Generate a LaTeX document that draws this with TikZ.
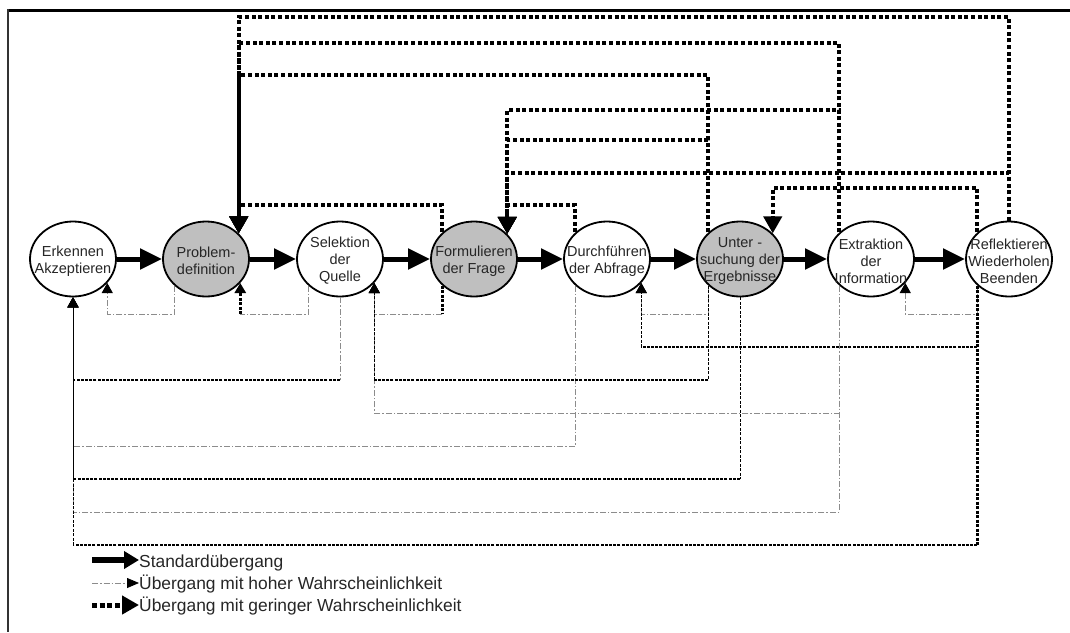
\documentclass[tikz,border=0pt]{standalone}
\usepackage{fontspec}
\setmainfont{Liberation Sans}
\usetikzlibrary{arrows.meta,shapes.geometric}
\begin{document}
\begin{tikzpicture}[x=1pt,y=-1pt,
  stnode/.style={ellipse, draw=black, line width=1.8pt, minimum width=86pt, minimum height=75pt, inner sep=0pt, fill=white},
  grnode/.style={stnode, fill=black!25},
  ntext/.style={font=\fontsize{14.5}{17}\selectfont, align=center, text=black!85, inner sep=0pt, yshift=-2pt},
  legtext/.style={font=\fontsize{17.4}{21}\selectfont, text=black!85, inner sep=0pt, anchor=base west},
  std/.style={line width=5pt, -{Triangle[length=22pt,width=20pt]}},
  lo/.style={line width=4pt, dash pattern=on 4pt off 2.6pt},
  loarr/.style={lo, -{Triangle[length=17pt,width=18pt]}},
  lom/.style={line width=3pt, dash pattern=on 3pt off 1.5pt},
  lob/.style={line width=2.2pt, dash pattern=on 3pt off 1.2pt},
  vthin/.style={line width=1pt, dash pattern=on 3pt off 1.5pt},
  hi/.style={draw=black!45, line width=0.8pt, dash pattern=on 6pt off 2pt on 1.5pt off 2pt},
  tip/.style={-{Triangle[length=10pt,width=11pt,color=black]}},
]
\useasboundingbox (0,0) rectangle (1070,632);
% frame
\draw[line width=3pt] (7,10.5) -- (1070,10.5);
\draw[black!80, line width=2pt] (8,9) -- (8,632);

% nodes
\node[stnode, label={[ntext]center:Erkennen\\Akzeptieren}] (n1) at (73,259) {};
\node[grnode, label={[ntext]center:Problem-\\definition}] (n2) at (206,259) {};
\node[stnode, label={[ntext]center:Selektion\\der\\Quelle}] (n3) at (340,259) {};
\node[grnode, label={[ntext]center:Formulieren\\der Frage}] (n4) at (474,259) {};
\node[stnode, label={[ntext]center:Durchführen\\der Abfrage}] (n5) at (607,259) {};
\node[grnode, label={[ntext]center:Unter -\\suchung der\\Ergebnisse}] (n6) at (740,259) {};
\node[stnode, label={[ntext]center:Extraktion\\der\\Information}] (n7) at (871,259) {};
\node[stnode, label={[ntext]center:Reflektieren\\Wiederholen\\Beenden}] (n8) at (1009,259) {};

% standard transitions
\draw[std] (n1.east) -- (n2.west);
\draw[std] (n2.east) -- (n3.west);
\draw[std] (n3.east) -- (n4.west);
\draw[std] (n4.east) -- (n5.west);
\draw[std] (n5.east) -- (n6.west);
\draw[std] (n6.east) -- (n7.west);
\draw[std] (n7.east) -- (n8.west);

% levels
\coordinate (tA) at (0,17);
\coordinate (tB) at (0,43);
\coordinate (tC) at (0,75);
\coordinate (tD) at (0,110);
\coordinate (tE) at (0,140);
\coordinate (tF) at (0,173);
\coordinate (tG) at (0,188);
\coordinate (tH) at (0,205);
\coordinate (bA) at (0,314);
\coordinate (bB) at (0,347);
\coordinate (bC) at (0,380);
\coordinate (bD) at (0,413);
\coordinate (bE) at (0,446);
\coordinate (bF) at (0,479);
\coordinate (bG) at (0,512);
\coordinate (bH) at (0,545);

% top: low probability transitions
\draw[loarr] (n8.north) -- (n8.north |- tA) -| (n2.38);
\draw[loarr] (n7.140) -- (n7.140 |- tB) -| (n2.38);
\draw[loarr] (n6.140) -- (n6.140 |- tC) -| (n2.38);
\draw[loarr] (n4.140) -- (n4.140 |- tH) -| (n2.38);
\draw[loarr] (n7.140) -- (n7.140 |- tD) -| (n4.37);
\draw[loarr] (n6.140) -- (n6.140 |- tE) -| (n4.37);
\draw[loarr] (n8.north) -- (n8.north |- tF) -| (n4.37);
\draw[loarr] (n5.140) -- (n5.140 |- tH) -| (n4.37);
\draw[loarr] (n8.140) -- (n8.140 |- tG) -| (n6.38);

% bottom: small loops (high probability)
\draw[hi, tip] (n2.-140) -- (n2.-140 |- bA) -| (n1.-35);
\coordinate (c2) at (n2.-35 |- bA);
\draw[hi] (n3.-140) -- (n3.-140 |- bA) -- (c2);
\draw[lom, tip] (c2) -- (n2.-35);
\coordinate (c3) at (n4.-140 |- bA);
\draw[lom] (n4.-140) -- (c3);
\draw[hi, tip] (c3) -| (n3.-35);
\draw[hi, tip] (n6.-140) -- (n6.-140 |- bA) -| (n5.-35);
\draw[hi, tip] (n8.-140) -- (n8.-140 |- bA) -| (n7.-35);

% bottom: long high probability
\draw[hi, tip] (n7.-140) -- (n7.-140 |- bD) -| (n3.-35);
\draw[hi, tip] (n5.-140) -- (n5.-140 |- bE) -| (n1.south);
\draw[hi, tip] (n7.-140) -- (n7.-140 |- bG) -| (n1.south);

% bottom: low probability
\coordinate (c6a) at (n8.-140 |- bB);
\coordinate (c6b) at (n5.-35 |- bB);
\draw[vthin] (n8.-140) -- (c6a);
\draw[lob] (c6a) -- (c6b);
\draw[vthin, tip] (c6b) -- (n5.-35);

\coordinate (c7a) at (n3.south |- bC);
\coordinate (c7b) at (n1.south |- bC);
\draw[hi] (n3.south) -- (c7a);
\draw[lob] (c7a) -- (c7b);
\draw[vthin, tip] (c7b) -- (n1.south);

\coordinate (c8a) at (n6.-140 |- bC);
\coordinate (c8b) at (n3.-35 |- bC);
\draw[vthin] (n6.-140) -- (c8a);
\draw[lob] (c8a) -- (c8b);
\draw[vthin, tip] (c8b) -- (n3.-35);

\coordinate (c11a) at (n6.south |- bF);
\coordinate (c11b) at (n1.south |- bF);
\draw[vthin] (n6.south) -- (c11a);
\draw[lob] (c11a) -- (c11b);
\draw[vthin, tip] (c11b) -- (n1.south);

\coordinate (c13a) at (n8.-140 |- bH);
\coordinate (c13b) at (n1.south |- bH);
\draw[lom] (n8.-140) -- (c13a);
\draw[lob] (c13a) -- (c13b);
\draw[vthin, tip] (c13b) -- (n1.south);

% legend
\node[legtext] (l1) at (139,567) {Standardübergang};
\node[legtext] (l2) at (139,589) {Übergang mit hoher Wahrscheinlichkeit};
\node[legtext] (l3) at (139,611) {Übergang mit geringer Wahrscheinlichkeit};
\coordinate (s1) at (92,560);
\coordinate (s2) at (92,583);
\coordinate (s3) at (92,605);
\draw[line width=6pt, -{Triangle[length=15pt,width=17pt]}] (s1) -- (s1 -| l1.west);
\draw[hi, -{Triangle[length=12pt,width=10pt,color=black]}] (s2) -- (s2 -| l2.west);
\draw[line width=5pt, dash pattern=on 5pt off 2.7pt, -{Triangle[length=17pt,width=18pt]}] (s3) -- (s3 -| l3.west);
\end{tikzpicture}
\end{document}
